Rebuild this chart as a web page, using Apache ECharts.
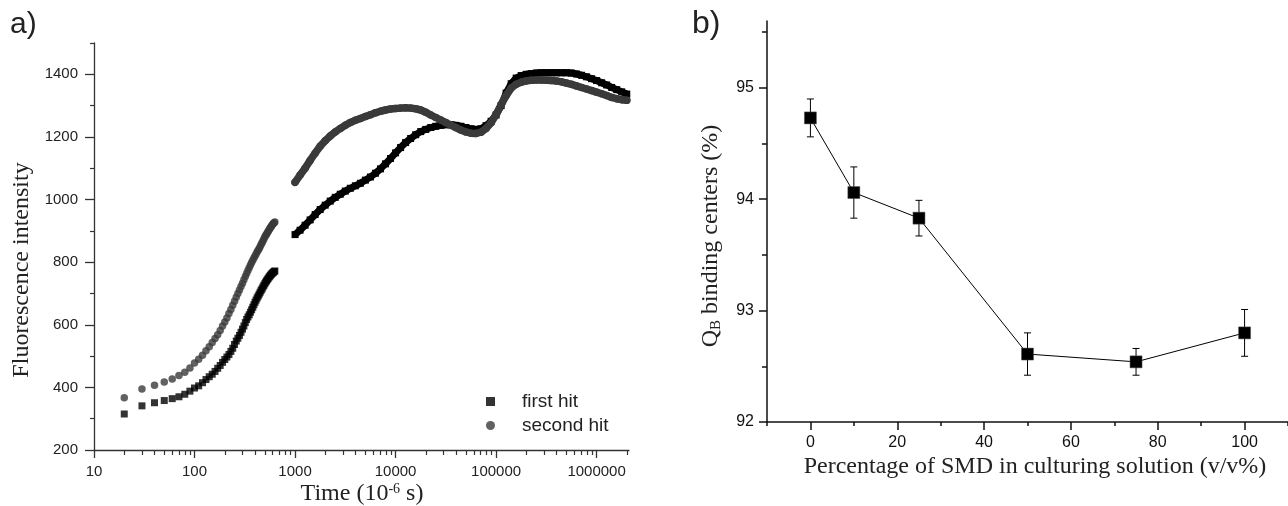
<!DOCTYPE html>
<html>
<head>
<meta charset="utf-8">
<script src="https://cdn.jsdelivr.net/npm/echarts@6/dist/echarts.min.js"></script>
<style>
html,body{margin:0;padding:0;background:#fff;}
#c{width:1288px;height:506px;}
</style>
</head>
<body>
<div id="c"></div>
<script>
// ---- panel a) data ----
const timeA = [20,30,40,50,60,70,80,90,100,110,120,130,140,150,160,170,180,190,200,210,
  220,230,240,250,260,270,280,290,300,310,320,330,340,350,360,370,380,390,400,410,
  420,430,440,450,460,470,480,490,500,510,520,530,540,550,560,570,580,590,600,610,620,630];
const firstA = [315,341,351,358,364,370,378,388,398,405,
  415,425,434,442,451,461,470,480,489,497,
  505,515,525,537,548,557,566,576,586,596,
  607,617,625,632,640,648,656,664,672,679,
  686,692,698,704,710,715,721,726,731,736,
  740,744,748,752,755,758,761,764,766,768,770,772];
const secondA = [367,395,407,417,427,438,448,462,478,490,
  503,517,530,543,556,568,582,596,609,622,
  636,649,662,675,688,700,711,722,733,744,
  754,764,773,782,791,799,806,813,820,826,
  833,838,844,850,856,862,868,874,880,885,
  889,894,898,903,907,911,914,918,921,924,926,928];
const timeB = [1000,1122,1259,1413,1585,1778,1995,2239,2512,2818,
  3162,3548,3981,4467,5012,5623,6310,7079,7943,8913,
  10000,11220,12589,14125,15849,17783,19953,22387,25119,28184,
  31623,35481,39811,44668,50119,56234,63096,70795,79433,89125,
  100000,112202,125893,141254,158489,177828,199526,223872,251189,281838,
  316228,354813,398107,446684,501187,562341,630957,707946,794328,891251,
  1000000,1122018,1258925,1412538,1584893,1778279,1995262];
const firstB = [888,902,918,935,952,968,982,995,1007,1017,
  1027,1036,1044,1052,1062,1072,1084,1098,1114,1131,
  1149,1166,1182,1195,1207,1217,1224,1230,1234,1237,
  1239,1239,1237,1234,1230,1226,1224,1226,1236,1250,
  1270,1300,1340,1370,1388,1396,1400,1402,1404,1405,
  1405,1405,1405,1405,1405,1404,1401,1397,1392,1386,
  1380,1373,1366,1358,1351,1344,1337];
const secondB = [1055,1078,1100,1125,1148,1170,1188,1203,1216,1227,
  1237,1246,1253,1259,1265,1271,1277,1282,1286,1289,
  1291,1292,1293,1292,1290,1286,1279,1270,1262,1254,
  1246,1238,1230,1222,1216,1212,1211,1215,1227,1245,
  1272,1303,1332,1356,1368,1375,1379,1381,1382,1382,
  1381,1380,1379,1376,1372,1368,1363,1358,1353,1348,
  1343,1338,1332,1326,1322,1319,1317];
const timeTicks = [10,100,1000,10000,100000,1000000];
const timeMinorTicks = [20,30,40,50,60,70,80,90,200,300,400,500,600,700,800,900,
  2000,3000,4000,5000,6000,7000,8000,9000,20000,30000,40000,50000,60000,70000,80000,90000,
  200000,300000,400000,500000,600000,700000,800000,900000,2000000];
const fluoTicks = [200,400,600,800,1000,1200,1400];
const fluoMinorTicks = [300,500,700,900,1100,1300,1500];
const seriesNames = ['first hit','second hit'];

// ---- panel b) data ----
const smdPct = [0,10,25,50,75,100];
const qbValue = [94.73,94.06,93.83,92.61,92.54,92.80];
const qbError = [0.17,0.23,0.16,0.19,0.12,0.21];
const pctTicks = [0,20,40,60,80,100];
const pctMinorTicks = [-10,10,30,50,70,90,110];
const qbTicks = [92,93,94,95];
const qbMinorTicks = [92.5,93.5,94.5,95.5];

const SANS = '"Liberation Sans", Arial, Helvetica, sans-serif';
const SERIF = '"Liberation Serif", "Times New Roman", Times, serif';

const pairs = (xs, ys) => xs.map((x,i)=>[x, ys[i]]);
const qbData = pairs(smdPct, qbValue);
const errData = smdPct.map((p,i)=>[p, qbValue[i]-qbError[i], qbValue[i]+qbError[i]]);

const chart = echarts.init(document.getElementById('c'), null, {renderer:'canvas'});

const L = '#333', R = '#111';
function tickAxis(type, grid, pos, min, max, values, len, color, width){
  return {type:type, gridIndex:grid, position:pos, offset:0, min:min, max:max,
    axisLine:{show:false, onZero:false}, splitLine:{show:false}, axisLabel:{show:false},
    axisTick:{show:true, inside:false, length:len, customValues:values, lineStyle:{color:color, width:width}}};
}

const option = {
  backgroundColor:'#fff',
  animation:false,
  grid:[
    {left:94, top:43, width:535, height:407},
    {left:767, top:21, width:527, height:401}
  ],
  legend:{
    data:[{name:seriesNames[0], icon:'rect'},{name:seriesNames[1], icon:'circle'}],
    orient:'vertical',
    left:481, top:387,
    itemWidth:9, itemHeight:9, itemGap:5,
    textStyle:{fontFamily:SANS, fontSize:19, color:'#222', padding:[0,0,0,22]}
  },
  xAxis:[
    {type:'log', gridIndex:0, position:'bottom', min:10, max:2100000,
     axisLine:{show:true, onZero:false, lineStyle:{color:L, width:1.3}}, splitLine:{show:false}, axisTick:{show:false},
     axisLabel:{show:true, customValues:timeTicks, margin:14, fontFamily:SANS, fontSize:15, color:'#222',
       formatter:v=>String(Math.round(v))}},
    tickAxis('log', 0, 'bottom', 10, 2100000, timeTicks, 8, L, 1.3),
    tickAxis('log', 0, 'bottom', 10, 2100000, timeMinorTicks, 5, L, 1.2),
    {type:'value', gridIndex:1, position:'bottom', min:-10, max:110,
     axisLine:{show:true, onZero:false, lineStyle:{color:R, width:1.5}}, splitLine:{show:false}, axisTick:{show:false},
     axisLabel:{show:true, customValues:pctTicks, margin:13, fontFamily:SANS, fontSize:16, color:'#111'}},
    tickAxis('value', 1, 'bottom', -10, 110, pctTicks, 8, R, 1.5),
    tickAxis('value', 1, 'bottom', -10, 110, pctMinorTicks, 4, R, 1.5)
  ],
  yAxis:[
    {type:'value', gridIndex:0, position:'left', min:200, max:1500,
     axisLine:{show:true, onZero:false, lineStyle:{color:L, width:1.3}}, splitLine:{show:false}, axisTick:{show:false},
     axisLabel:{show:true, customValues:fluoTicks, margin:16, fontFamily:SANS, fontSize:15, color:'#222',
       formatter:v=>String(v)}},
    tickAxis('value', 0, 'left', 200, 1500, fluoTicks, 9, L, 1.3),
    tickAxis('value', 0, 'left', 200, 1500, fluoMinorTicks, 4, L, 1.2),
    {type:'value', gridIndex:1, position:'left', min:92, max:95.6,
     axisLine:{show:true, onZero:false, lineStyle:{color:R, width:1.5}}, splitLine:{show:false}, axisTick:{show:false},
     axisLabel:{show:true, customValues:qbTicks, margin:13, fontFamily:SANS, fontSize:16, color:'#111'}},
    tickAxis('value', 1, 'left', 92, 95.6, qbTicks, 8, R, 1.5),
    tickAxis('value', 1, 'left', 92, 95.6, qbMinorTicks, 5, R, 1.5)
  ],
  series:[
    {name:seriesNames[0], type:'scatter', xAxisIndex:0, yAxisIndex:0,
     symbol:'rect', symbolSize:7, itemStyle:{color:'#000'}, data:pairs(timeA, firstA), z:2},
    {name:seriesNames[0], type:'line', xAxisIndex:0, yAxisIndex:0,
     symbol:'rect', symbolSize:7, showSymbol:true, showAllSymbol:true,
     itemStyle:{color:'#000'}, lineStyle:{color:'#000', width:7, join:'round'},
     data:pairs(timeB, firstB), z:2},
    {name:seriesNames[1], type:'scatter', xAxisIndex:0, yAxisIndex:0,
     symbol:'circle', symbolSize:7.5, itemStyle:{color:'#3a3a3a'}, data:pairs(timeA, secondA), z:3},
    {name:seriesNames[1], type:'line', xAxisIndex:0, yAxisIndex:0,
     symbol:'circle', symbolSize:7.5, showSymbol:true, showAllSymbol:true,
     itemStyle:{color:'#3a3a3a'}, lineStyle:{color:'#3a3a3a', width:7.5, cap:'round', join:'round'},
     data:pairs(timeB, secondB), z:3},
    {name:'errors', type:'custom', xAxisIndex:3, yAxisIndex:3, clip:false,
     encode:{x:0, y:[1,2]}, data:errData, z:2,
     renderItem:function(params, api){
       const x = api.value(0);
       const lo = api.coord([x, api.value(1)]);
       const hi = api.coord([x, api.value(2)]);
       const hw = 3.5;
       const st = {stroke:'#000', lineWidth:1};
       return {type:'group', children:[
         {type:'line', shape:{x1:lo[0], y1:lo[1], x2:hi[0], y2:hi[1]}, style:st},
         {type:'line', shape:{x1:lo[0]-hw, y1:lo[1], x2:lo[0]+hw, y2:lo[1]}, style:st},
         {type:'line', shape:{x1:hi[0]-hw, y1:hi[1], x2:hi[0]+hw, y2:hi[1]}, style:st}
       ]};
     }},
    {name:'QB', type:'line', xAxisIndex:3, yAxisIndex:3,
     symbol:'rect', symbolSize:12, showAllSymbol:true,
     itemStyle:{color:'#000', borderColor:'#555', borderWidth:0.5},
     lineStyle:{color:'#000', width:1}, data:qbData, z:4}
  ],
  graphic:[
    {type:'text', left:10, top:10, style:{text:'a)', font:'30px '+SANS, fill:'#222'}},
    {type:'text', left:692, top:8, style:{text:'b)', font:'32px '+SANS, fill:'#222'}},
    {type:'text', x:22, y:270, rotation:Math.PI/2,
     style:{text:'Fluorescence intensity', font:'24px '+SERIF, fill:'#222', align:'center', verticalAlign:'middle'}},
    {type:'text', x:362, y:494,
     style:{text:'Time (10{sup|-6} s)', font:'24px '+SERIF, fill:'#222', align:'center', verticalAlign:'middle',
       rich:{sup:{fontSize:14, fontFamily:SERIF, verticalAlign:'top', padding:[0,0,10,0]}}}},
    {type:'text', x:711, y:236, rotation:Math.PI/2,
     style:{text:'Q{sub|B} binding centers (%)', font:'24px '+SERIF, fill:'#222', align:'center', verticalAlign:'middle',
       rich:{sub:{fontSize:15, fontFamily:SERIF, padding:[10,0,0,0]}}}},
    {type:'text', x:1035, y:467,
     style:{text:'Percentage of SMD in culturing solution (v/v%)', font:'24px '+SERIF, fill:'#222', align:'center', verticalAlign:'middle'}}
  ]
};
chart.setOption(option);
</script>
</body>
</html>
